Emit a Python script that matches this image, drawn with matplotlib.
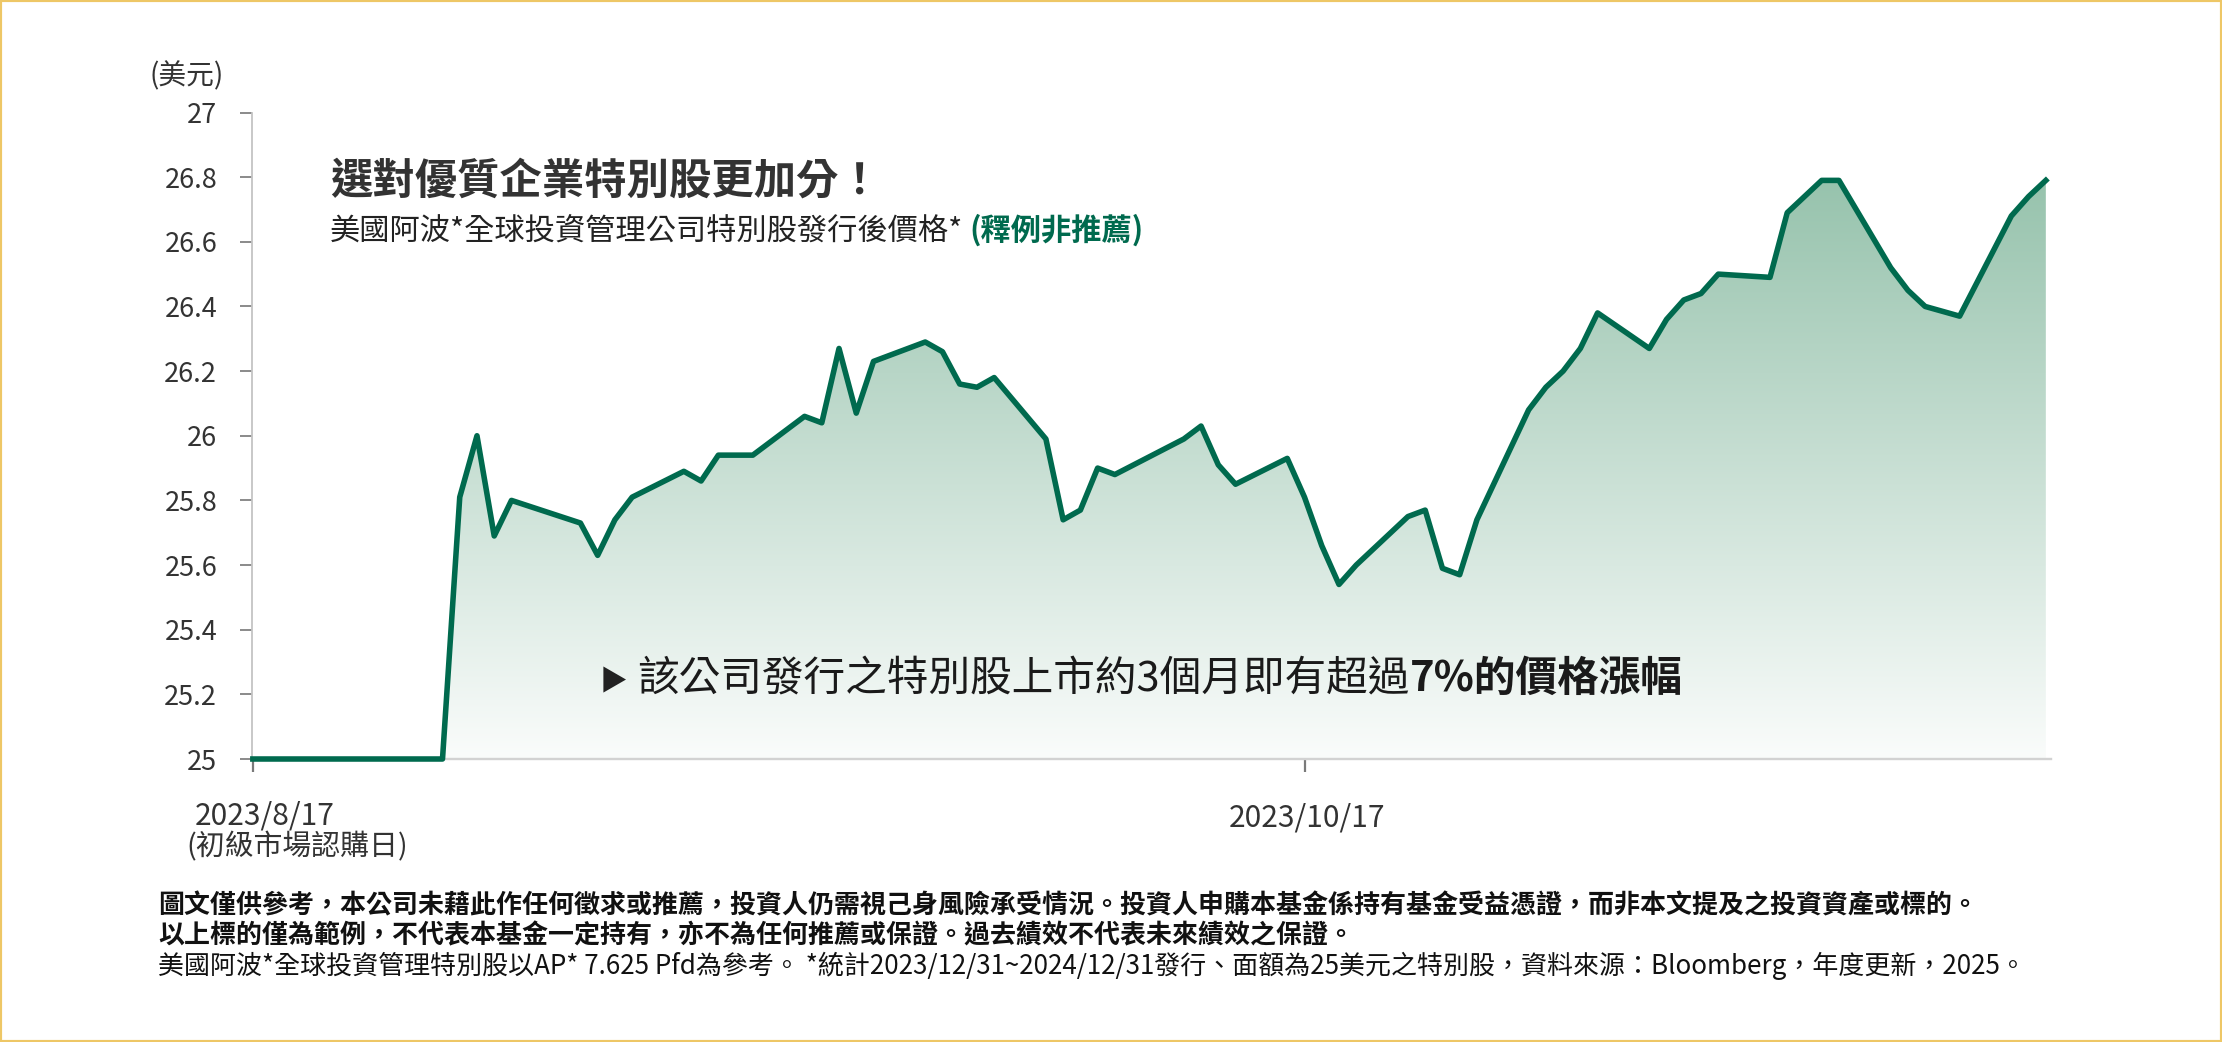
import numpy as np
import pandas as pd
import matplotlib
matplotlib.use('Agg')
import matplotlib.pyplot as plt
from matplotlib.colors import LinearSegmentedColormap
from matplotlib.patches import Rectangle

plt.rcParams['font.family'] = ['Noto Sans CJK TC', 'DejaVu Sans']

# 收盤價（美元），只列出交易日
dates = [
    '2023-08-17', '2023-08-28', '2023-08-29', '2023-08-30', '2023-08-31',
    '2023-09-01', '2023-09-05', '2023-09-06', '2023-09-07', '2023-09-08',
    '2023-09-11', '2023-09-12', '2023-09-13', '2023-09-14', '2023-09-15',
    '2023-09-18', '2023-09-19', '2023-09-20', '2023-09-21', '2023-09-22',
    '2023-09-25', '2023-09-26', '2023-09-27', '2023-09-28', '2023-09-29',
    '2023-10-02', '2023-10-03', '2023-10-04', '2023-10-05', '2023-10-06',
    '2023-10-10', '2023-10-11', '2023-10-12', '2023-10-13',
    '2023-10-16', '2023-10-17', '2023-10-18', '2023-10-19', '2023-10-20',
    '2023-10-23', '2023-10-24', '2023-10-25', '2023-10-26', '2023-10-27',
    '2023-10-30', '2023-10-31', '2023-11-01', '2023-11-02', '2023-11-03',
    '2023-11-06', '2023-11-07', '2023-11-08', '2023-11-09', '2023-11-10',
    '2023-11-13', '2023-11-14', '2023-11-15', '2023-11-16', '2023-11-17',
    '2023-11-20', '2023-11-21', '2023-11-22', '2023-11-24',
    '2023-11-27', '2023-11-28', '2023-11-29',
]
prices = [
    25.00, 25.00, 25.81, 26.00, 25.69,
    25.80, 25.73, 25.63, 25.74, 25.81,
    25.89, 25.86, 25.94, 25.94, 25.94,
    26.06, 26.04, 26.27, 26.07, 26.23,
    26.29, 26.26, 26.16, 26.15, 26.18,
    25.99, 25.74, 25.77, 25.90, 25.88,
    25.99, 26.03, 25.91, 25.85,
    25.93, 25.81, 25.66, 25.54, 25.60,
    25.75, 25.77, 25.59, 25.57, 25.74,
    26.08, 26.15, 26.20, 26.27, 26.38,
    26.27, 26.36, 26.42, 26.44, 26.50,
    26.49, 26.69, 26.74, 26.79, 26.79,
    26.52, 26.45, 26.40, 26.37,
    26.68, 26.74, 26.79,
]

y_ticks = [25, 25.2, 25.4, 25.6, 25.8, 26, 26.2, 26.4, 26.6, 26.8, 27]
y_tick_labels = ['25', '25.2', '25.4', '25.6', '25.8', '26',
                 '26.2', '26.4', '26.6', '26.8', '27']
x_tick_dates = ['2023-08-17', '2023-10-17']
x_tick_labels = ['2023/8/17', '2023/10/17']

title = '選對優質企業特別股更加分！'
subtitle = '美國阿波*全球投資管理公司特別股發行後價格*'
subtitle_note = '(釋例非推薦)'
callout = '該公司發行之特別股上市約3個月即有超過'
callout_bold = '7%的價格漲幅'
notes = [
    ('圖文僅供參考，本公司未藉此作任何徵求或推薦，投資人仍需視己身風險承受情況。'
     '投資人申購本基金係持有基金受益憑證，而非本文提及之投資資產或標的。', 'bold'),
    ('以上標的僅為範例，不代表本基金一定持有，亦不為任何推薦或保證。'
     '過去績效不代表未來績效之保證。', 'bold'),
    ('美國阿波*全球投資管理特別股以AP* 7.625 Pfd為參考。 '
     '*統計2023/12/31~2024/12/31發行、面額為25美元之特別股，'
     '資料來源：Bloomberg，年度更新，2025。', 'normal'),
]

GREEN = '#006A4E'
W, H = 2222, 1042


def fx(px):
    return px / W


def fy(py):
    return 1 - py / H


fig = plt.figure(figsize=(W / 100, H / 100), dpi=100)
fig.patch.set_facecolor('white')
ax = fig.add_axes([fx(252), fy(759), (2051 - 252) / W, (759 - 112.5) / H])

start = pd.Timestamp(dates[0])
days = (pd.to_datetime(dates) - start).days.to_numpy()
tick_days = (pd.to_datetime(x_tick_dates) - start).days.to_numpy()

# 漸層面積：上深下淺
area = ax.fill_between(days, prices, 25, facecolor='none', edgecolor='none')
cmap = LinearSegmentedColormap.from_list('grn', ['#FAFCFB', '#97C3AD'])
grad = np.linspace(0, 1, 256).reshape(-1, 1)
img = ax.imshow(grad, extent=[days[0], days[-1], 25, max(prices)],
                origin='lower', aspect='auto', cmap=cmap, zorder=1)
img.set_clip_path(area.get_paths()[0], ax.transData)

ax.plot(days, prices, color=GREEN, lw=4, zorder=3, clip_on=False)

ax.set_xlim(-0.05, 104.3)
ax.set_ylim(25, 27)

for side in ['top', 'right']:
    ax.spines[side].set_visible(False)
ax.spines['left'].set_color('#C4C4C4')
ax.spines['left'].set_linewidth(1.3)
ax.spines['bottom'].set_color('#D2D2D2')
ax.spines['bottom'].set_linewidth(1.7)

ax.set_yticks(y_ticks, labels=y_tick_labels)
ax.tick_params(axis='y', length=8.6, width=1.4, color='#8A8A8A', pad=16.5,
               labelsize=19.5, labelcolor='#333333')
ax.set_xticks(tick_days, labels=['', ''])
ax.tick_params(axis='x', length=9.4, width=1.6, color='#7A7A7A')

renderer = fig.canvas.get_renderer()


def text_run(x_px, base_px, parts, size, gap=0):
    x = x_px
    for s, kw in parts:
        t = fig.text(fx(x), fy(base_px), s, fontsize=size, va='baseline',
                     ha='left', **kw)
        x += t.get_window_extent(renderer).width + gap


# 單位與日期標示
fig.text(fx(149), fy(84), '(美元)', fontsize=20, color='#333333', va='baseline')
fig.text(fx(195), fy(825), x_tick_labels[0], fontsize=21.5, color='#333333',
         va='baseline')
fig.text(fx(186), fy(855), '(初級市場認購日)', fontsize=20.8, color='#333333',
         va='baseline')
fig.text(fx(1229), fy(826), x_tick_labels[1], fontsize=21.5, color='#333333',
         va='baseline')

# 標題
fig.text(fx(330), fy(194), title, fontsize=30.5, fontweight='bold',
         color='#333333', va='baseline')
text_run(330, 240, [(subtitle, dict(color='#222222')),
                    (subtitle_note, dict(color=GREEN, fontweight='bold'))],
         21.8, gap=6)

# 說明文字
fig.text(fx(600), fy(690), '▶', fontsize=20, color='#222222', va='baseline')
text_run(637, 691, [(callout, dict(color='#1A1A1A')),
                    (callout_bold, dict(color='#1A1A1A', fontweight='bold'))],
         30)

# 註解
for i, (line, weight) in enumerate(notes):
    fig.text(fx(158), fy(913 + i * 30.5), line, fontsize=18.7,
             fontweight=weight, color='#111111', va='baseline')

fig.add_artist(Rectangle((0, 0), 1, 1, transform=fig.transFigure, fill=False,
                         edgecolor='#EEC766', lw=3))

fig.savefig('out.png', dpi=100)
